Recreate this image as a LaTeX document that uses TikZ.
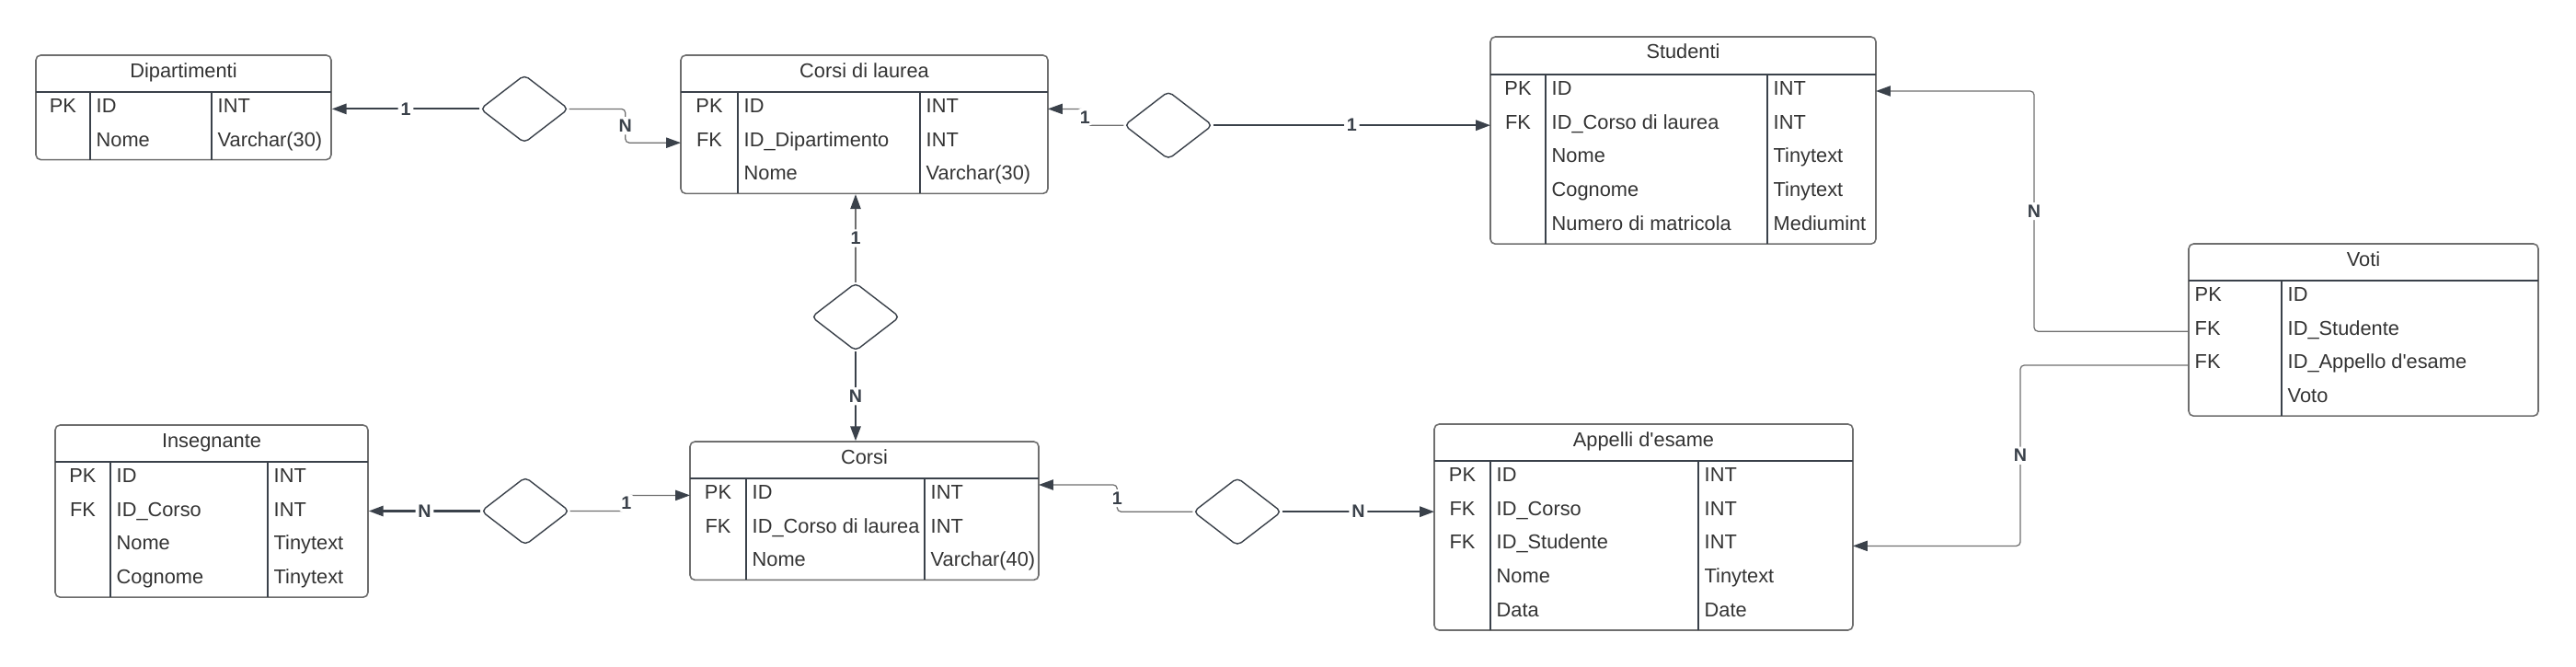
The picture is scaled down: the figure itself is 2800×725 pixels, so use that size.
\documentclass[tikz,border=0pt]{standalone}
\usepackage{fontspec}
\setmainfont{Liberation Sans}
\usetikzlibrary{arrows.meta,shapes.geometric,fit}
\definecolor{linedark}{HTML}{3A414A}
\definecolor{linegray}{HTML}{6E6E6E}
\definecolor{textgray}{HTML}{333333}

\begin{document}
\begin{tikzpicture}[x=0.01cm,y=-0.01cm,
    tbl/.style={draw=linegray,line width=0.45pt,rounded corners=1.5pt},
    tline/.style={draw=linedark,line width=0.35pt},
    ttl/.style={anchor=base,font=\fontsize{6.2}{7.5}\selectfont,text=textgray},
    key/.style={anchor=base,font=\fontsize{6.2}{7.5}\selectfont,text=textgray},
    cell/.style={anchor=base west,font=\fontsize{6.2}{7.5}\selectfont,text=textgray},
    rel/.style={diamond,draw=linedark,line width=0.4pt,minimum width=0.96cm,minimum height=0.74cm,rounded corners=1.5pt},
    thk/.style={draw=linedark,line width=0.6pt,rounded corners=1.2pt,-{Triangle[length=4.5pt,width=3.2pt]}},
    thn/.style={draw=linegray,line width=0.35pt,rounded corners=1.2pt,-{Triangle[length=4.5pt,width=3.2pt,color=linedark]}},
    lab/.style={fill=white,inner sep=0.8pt,font=\fontsize{5.6}{6.2}\selectfont\bfseries,text=linedark}]
    \tikzstyle{every node}+=[inner sep=0pt]
    \useasboundingbox (0,0) rectangle (2800,725);

    \node [tbl, fit={(39,60) (360,173.6)}] (dip) {};
    \draw [tline] (39,100) -- (360,100);
    \draw [tline] (98,100) -- (98,173.6);
    \draw [tline] (230,100) -- (230,173.6);
    \node [ttl] (dip-t) at (199.5,85) {Dipartimenti};
    \node [key] (dip-k1) at (68.5,122.4) {PK};
    \node [cell] (dip-n1) at (104,122.4) {ID};
    \node [cell] (dip-y1) at (236,122.4) {INT};
    \node [cell] (dip-n2) at (104,159.2) {Nome};
    \node [cell] (dip-y2) at (236,159.2) {Varchar(30)};

    \node [tbl, fit={(740,60) (1139,210.4)}] (cdl) {};
    \draw [tline] (740,100) -- (1139,100);
    \draw [tline] (802,100) -- (802,210.4);
    \draw [tline] (1000,100) -- (1000,210.4);
    \node [ttl] (cdl-t) at (939.5,85) {Corsi di laurea};
    \node [key] (cdl-k1) at (771,122.4) {PK};
    \node [cell] (cdl-n1) at (808,122.4) {ID};
    \node [cell] (cdl-y1) at (1006,122.4) {INT};
    \node [key] (cdl-k2) at (771,159.2) {FK};
    \node [cell] (cdl-n2) at (808,159.2) {ID\_Dipartimento};
    \node [cell] (cdl-y2) at (1006,159.2) {INT};
    \node [cell] (cdl-n3) at (808,196) {Nome};
    \node [cell] (cdl-y3) at (1006,196) {Varchar(30)};

    \node [tbl, fit={(1620,40) (2039,265.2)}] (stu) {};
    \draw [tline] (1620,81) -- (2039,81);
    \draw [tline] (1680,81) -- (1680,265.2);
    \draw [tline] (1921,81) -- (1921,265.2);
    \node [ttl] (stu-t) at (1829.5,64) {Studenti};
    \node [key] (stu-k1) at (1650,103.4) {PK};
    \node [cell] (stu-n1) at (1686,103.4) {ID};
    \node [cell] (stu-y1) at (1927,103.4) {INT};
    \node [key] (stu-k2) at (1650,140.2) {FK};
    \node [cell] (stu-n2) at (1686,140.2) {ID\_Corso di laurea};
    \node [cell] (stu-y2) at (1927,140.2) {INT};
    \node [cell] (stu-n3) at (1686,177) {Nome};
    \node [cell] (stu-y3) at (1927,177) {Tinytext};
    \node [cell] (stu-n4) at (1686,213.8) {Cognome};
    \node [cell] (stu-y4) at (1927,213.8) {Tinytext};
    \node [cell] (stu-n5) at (1686,250.6) {Numero di matricola};
    \node [cell] (stu-y5) at (1927,250.6) {Mediumint};

    \node [tbl, fit={(2379,265) (2759,452.2)}] (voti) {};
    \draw [tline] (2379,305) -- (2759,305);
    \draw [tline] (2480,305) -- (2480,452.2);
    \node [ttl] (voti-t) at (2569,290) {Voti};
    \node [cell] (voti-k1) at (2385,327.4) {PK};
    \node [cell] (voti-n1) at (2486,327.4) {ID};
    \node [cell] (voti-k2) at (2385,364.2) {FK};
    \node [cell] (voti-n2) at (2486,364.2) {ID\_Studente};
    \node [cell] (voti-k3) at (2385,401) {FK};
    \node [cell] (voti-n3) at (2486,401) {ID\_Appello d\textquotesingle esame};
    \node [cell] (voti-n4) at (2486,437.8) {Voto};

    \node [tbl, fit={(60,462) (400,649.2)}] (ins) {};
    \draw [tline] (60,502) -- (400,502);
    \draw [tline] (120,502) -- (120,649.2);
    \draw [tline] (291,502) -- (291,649.2);
    \node [ttl] (ins-t) at (230,486.5) {Insegnante};
    \node [key] (ins-k1) at (90,524.4) {PK};
    \node [cell] (ins-n1) at (126,524.4) {ID};
    \node [cell] (ins-y1) at (297,524.4) {INT};
    \node [key] (ins-k2) at (90,561.2) {FK};
    \node [cell] (ins-n2) at (126,561.2) {ID\_Corso};
    \node [cell] (ins-y2) at (297,561.2) {INT};
    \node [cell] (ins-n3) at (126,598) {Nome};
    \node [cell] (ins-y3) at (297,598) {Tinytext};
    \node [cell] (ins-n4) at (126,634.8) {Cognome};
    \node [cell] (ins-y4) at (297,634.8) {Tinytext};

    \node [tbl, fit={(750,480) (1129,630.4)}] (cor) {};
    \draw [tline] (750,520) -- (1129,520);
    \draw [tline] (811,520) -- (811,630.4);
    \draw [tline] (1005,520) -- (1005,630.4);
    \node [ttl] (cor-t) at (939.5,505) {Corsi};
    \node [key] (cor-k1) at (780.5,542.4) {PK};
    \node [cell] (cor-n1) at (817,542.4) {ID};
    \node [cell] (cor-y1) at (1011,542.4) {INT};
    \node [key] (cor-k2) at (780.5,579.2) {FK};
    \node [cell] (cor-n2) at (817,579.2) {ID\_Corso di laurea};
    \node [cell] (cor-y2) at (1011,579.2) {INT};
    \node [cell] (cor-n3) at (817,616) {Nome};
    \node [cell] (cor-y3) at (1011,616) {Varchar(40)};

    \node [tbl, fit={(1559,461) (2014,685)}] (app) {};
    \draw [tline] (1559,501) -- (2014,501);
    \draw [tline] (1620,501) -- (1620,685);
    \draw [tline] (1846,501) -- (1846,685);
    \node [ttl] (app-t) at (1786.5,486) {Appelli d\textquotesingle esame};
    \node [key] (app-k1) at (1589.5,523.4) {PK};
    \node [cell] (app-n1) at (1626,523.4) {ID};
    \node [cell] (app-y1) at (1852,523.4) {INT};
    \node [key] (app-k2) at (1589.5,560.2) {FK};
    \node [cell] (app-n2) at (1626,560.2) {ID\_Corso};
    \node [cell] (app-y2) at (1852,560.2) {INT};
    \node [key] (app-k3) at (1589.5,597) {FK};
    \node [cell] (app-n3) at (1626,597) {ID\_Studente};
    \node [cell] (app-y3) at (1852,597) {INT};
    \node [cell] (app-n4) at (1626,633.8) {Nome};
    \node [cell] (app-y4) at (1852,633.8) {Tinytext};
    \node [cell] (app-n5) at (1626,670.6) {Data};
    \node [cell] (app-y5) at (1852,670.6) {Date};

    \node [rel] (dipcdl) at (570,118.4) {};
    \node [rel] (cdlstu) at (1270,136.2) {};
    \node [rel] (cdlcor) at (930,344.5) {};
    \node [rel] (inscor) at (571,555.5) {};
    \node [rel] (corapp) at (1345,556.2) {};

    \coordinate (cdl-fk) at (740,155.2);
    \coordinate (cdl-id) at (1139,118.4);
    \coordinate (stu-fk) at (1620,136.2);
    \coordinate (stu-id) at (2039,99);
    \coordinate (cor-pk) at (750,538.4);
    \coordinate (cor-id) at (1129,527);
    \coordinate (app-fk) at (1559,556.2);
    \coordinate (app-st) at (2014,593.4);
    \coordinate (voti-fk1) at (2379,360.2);
    \coordinate (voti-fk2) at (2379,397);

    \draw [thk] (dipcdl.west) -- node [lab] (l-dip) {1} (dipcdl.west -| dip.east);
    \draw [thn] (dipcdl.east) -- ++(61,0) |- node [lab,pos=0.25] (l-cdl1) {N} (cdl-fk);
    \draw [thn] (cdlstu.west) -- ++(-42,0) |- node [lab,pos=0.25] (l-cdl2) {1} (cdl-id);
    \draw [thk] (cdlstu.east) -- node [lab] (l-stu1) {1} (stu-fk);
    \draw [thn] (cdlcor.north) -- node [lab] (l-cdl3) {1} (cdlcor.north |- cdl.south);
    \draw [thk] (cdlcor.south) -- node [lab] (l-cor1) {N} (cdlcor.south |- cor.north);
    \draw [thk] (inscor.west) -- node [lab] (l-ins) {N} (inscor.west -| ins.east);
    \draw [thn] (inscor.east) -- ++(61,0) |- node [lab,pos=0.25] (l-cor2) {1} (cor-pk);
    \draw [thn] (corapp.west) -- ++(-82,0) |- node [lab,pos=0.25] (l-cor3) {1} (cor-id);
    \draw [thk] (corapp.east) -- node [lab] (l-app1) {N} (app-fk);
    \draw [thn] (voti-fk1) -- ++(-168,0) |- node [lab,pos=0.25] (l-stu2) {N} (stu-id);
    \draw [thn] (voti-fk2) -- ++(-183,0) |- node [lab,pos=0.25] (l-app2) {N} (app-st);
\end{tikzpicture}
\end{document}
